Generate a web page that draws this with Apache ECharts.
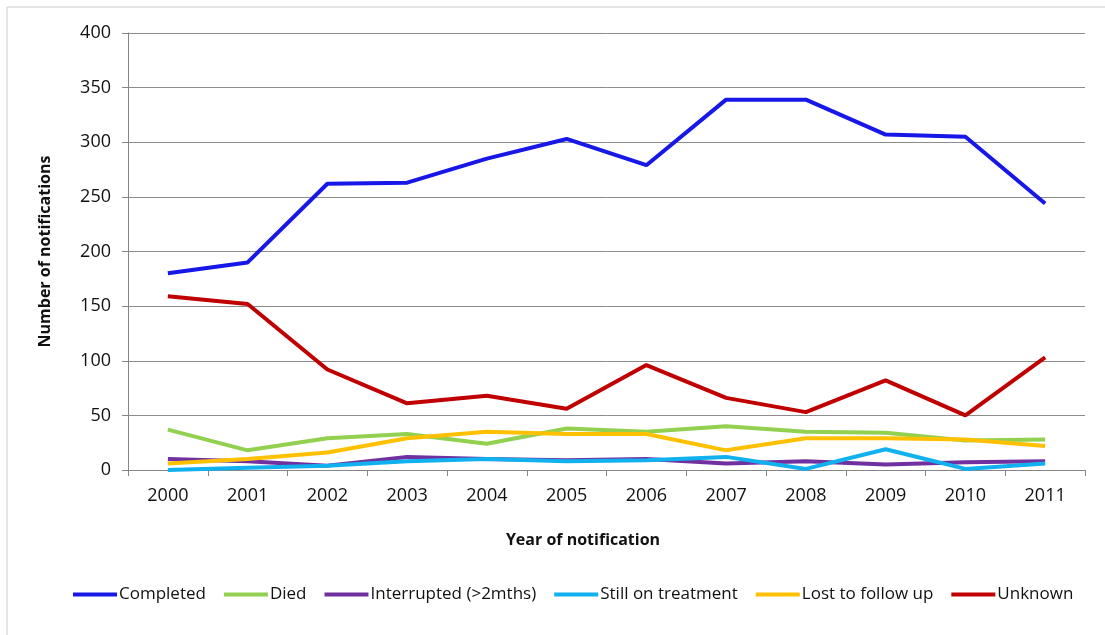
<!DOCTYPE html>
<html><head><meta charset="utf-8">
<script src="https://cdn.jsdelivr.net/npm/echarts@6/dist/echarts.min.js"></script>
<style>html,body{margin:0;padding:0;background:#fff}#c{width:1105px;height:635px}</style>
</head><body><div id="c"></div>
<script>
const categories = ['2000','2001','2002','2003','2004','2005','2006','2007','2008','2009','2010','2011'];
const yTicks = [0,50,100,150,200,250,300,350,400];
const completed = [180,190,262,263,285,303,279,339,339,307,305,244];
const died = [37,18,29,33,24,38,35,40,35,34,27,28];
const interrupted = [10,8,4,12,10,9,10,6,8,5,7,8];
const stillOnTreatment = [0,2,4,8,10,8,9,12,1,19,1,6];
const lostToFollowUp = [6,10,16,29,35,33,33,18,29,29,28,22];
const unknown = [159,152,92,61,68,56,96,66,53,82,50,103];

const seriesDefs = [
  ['Completed', completed, '#1717e8'],
  ['Died', died, '#92d050'],
  ['Interrupted (>2mths)', interrupted, '#7030a0'],
  ['Still on treatment', stillOnTreatment, '#11b0ef'],
  ['Lost to follow up', lostToFollowUp, '#ffc000'],
  ['Unknown', unknown, '#c00000']
];
const font = "'Open Sans', 'Noto Sans', sans-serif";
const chart = echarts.init(document.getElementById('c'));
chart.setOption({
  animation: false,
  backgroundColor: '#fff',
  textStyle: {fontFamily: font},
  grid: {left: 128, right: 20, top: 33, bottom: 165, containLabel: false},
  legend: {
    bottom: 27, left: 68, itemGap: 18, itemWidth: 44, itemHeight: 4,
    icon: 'rect',
    textStyle: {fontSize: 17, color: '#111', fontFamily: font, padding: [0,0,0,-3]},
    data: seriesDefs.map(d => d[0])
  },
  graphic: [
    {type: 'rect', shape: {x: 7, y: 7, width: 1120, height: 660}, style: {fill: 'none', stroke: '#cccccc', lineWidth: 1}, silent: true},
    {type: 'text', x: 583, y: 540, style: {text: 'Year of notification', font: 'bold 16px ' + font, fill: '#111', textAlign: 'center', textVerticalAlign: 'middle'}}
  ],
  xAxis: {
    type: 'category', data: categories, boundaryGap: true,
    axisLine: {lineStyle: {color: '#868686', width: 1}},
    axisTick: {show: true, length: 6, alignWithLabel: false, lineStyle: {color: '#868686'}},
    axisLabel: {fontSize: 18, color: '#111', margin: 17, fontFamily: font}
  },
  yAxis: {
    type: 'value', min: 0, max: 400, interval: 50,
    name: 'Number of notifications', nameLocation: 'middle', nameGap: 75, nameRotate: 90,
    nameTextStyle: {fontSize: 16, fontWeight: 'bold', color: '#111', fontFamily: font},
    axisLine: {show: true, lineStyle: {color: '#868686', width: 1}},
    axisTick: {show: true, length: 6, lineStyle: {color: '#868686'}},
    axisLabel: {fontSize: 18, color: '#111', margin: 17, fontFamily: font,
      formatter: v => yTicks.includes(v) ? String(v) : ''},
    splitLine: {show: true, lineStyle: {color: '#8c8c8c', width: 1}}
  },
  series: seriesDefs.map(d => ({
    name: d[0], type: 'line', data: d[1], showSymbol: false, symbol: 'none',
    lineStyle: {width: 4, color: d[2]}, itemStyle: {color: d[2]}
  }))
});
</script></body></html>
